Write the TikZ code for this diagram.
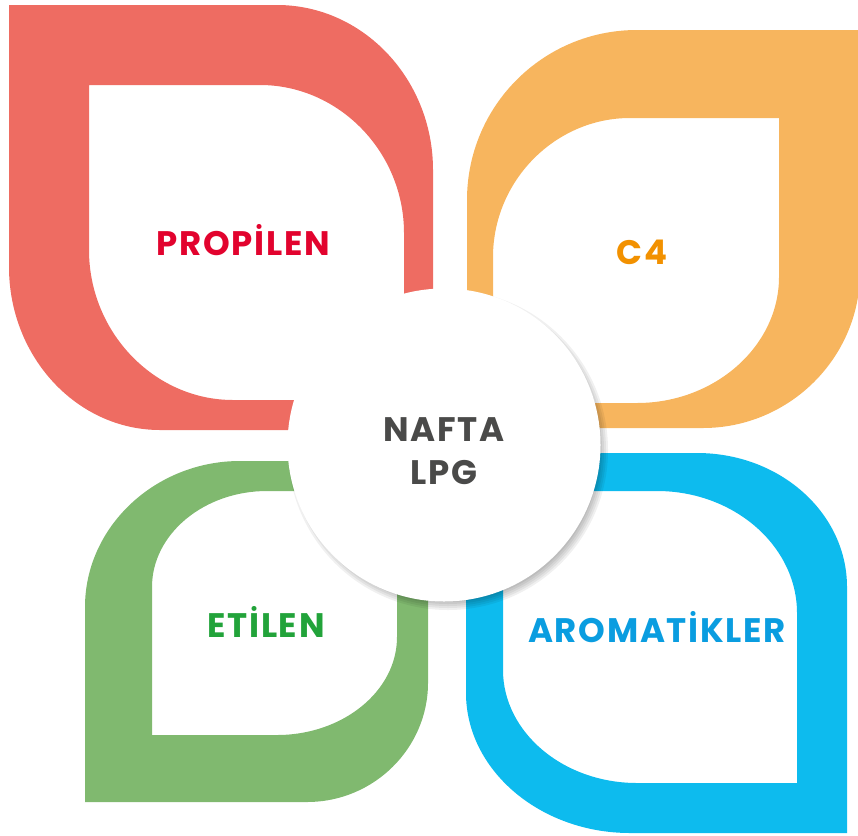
\documentclass[tikz,border=0pt]{standalone}
\usepackage{fontspec}
\setmainfont{Poppins}
\definecolor{propleaf}{HTML}{EE6C62}
\definecolor{cfourleaf}{HTML}{F7B55E}
\definecolor{etileaf}{HTML}{80B96F}
\definecolor{aroleaf}{HTML}{0DBBEE}
\definecolor{proptext}{HTML}{E2032E}
\definecolor{cfourtext}{HTML}{F29100}
\definecolor{etitext}{HTML}{22A33A}
\definecolor{arotext}{HTML}{0A9DE0}
\definecolor{coretext}{HTML}{4A4A49}
\begin{document}
\begin{tikzpicture}[x=1pt, y=-1pt, line join=round,
	leaf/.style={fill=#1, even odd rule},
	word/.style={font=\fontsize{34}{43}\selectfont\bfseries\addfontfeatures{LetterSpace=5}, text=#1, inner sep=0pt},
	core/.style={circle, fill=white, minimum size=313pt, inner sep=0pt}]
	\useasboundingbox (0,0) rectangle (858,835);
	% leaves
	\fill[leaf=propleaf] (9,5)--(277,5) .. controls (363,5) and (433,79) .. (433,170)--(433,430)--(160,430) .. controls (77,430) and (9,357) .. (9,267)--cycle
		(89,85)--(260,85) .. controls (339,85) and (404,152) .. (404,233)--(404,400)--(233,400) .. controls (154,400) and (89,332) .. (89,250)--cycle;
	\fill[leaf=cfourleaf] (467,200) .. controls (467,106) and (543,30) .. (637,30)--(860,30)--(860,272) .. controls (860,358) and (789,428) .. (703,428)--(467,428)--cycle
		(493,257) .. controls (493,181) and (555,118) .. (630,118)--(779,118)--(779,277) .. controls (779,346) and (715,403) .. (637,403)--(493,403)--cycle;
	\fill[leaf=etileaf] (85,607) .. controls (85,527) and (155,461) .. (240,461)--(428,461)--(428,683) .. controls (428,748) and (374,802) .. (307,802)--(85,802)--cycle
		(152,587) .. controls (152,534) and (204,491) .. (267,491)--(397,491)--(397,637) .. controls (397,691) and (343,735) .. (277,735)--(152,735)--cycle;
	\fill[leaf=aroleaf] (466,453)--(697,453) .. controls (780,453) and (847,513) .. (847,587)--(847,833)--(630,833) .. controls (540,833) and (466,770) .. (466,693)--cycle
		(503,491)--(657,491) .. controls (734,491) and (797,546) .. (797,613)--(797,783)--(637,783) .. controls (563,783) and (503,732) .. (503,670)--cycle;
	% shadow and centre
	\foreach \r in {146,148,...,160}
		\fill[black, opacity=0.06] (448,450) circle (\r);
	\node[core] (core) at (444,445) {};
	\node[word=coretext, align=center] (nafta) at (444,451) {NAFTA\\LPG};
	% labels
	\node[word=proptext] (propilen) at (243,240) {PROPİLEN};
	\node[word=cfourtext] (cfour) at (642,252) {C4};
	\node[word=etitext] (etilen) at (266,622) {ETİLEN};
	\node[word=arotext] (aromatik) at (657,627) {AROMATİKLER};
\end{tikzpicture}
\end{document}
